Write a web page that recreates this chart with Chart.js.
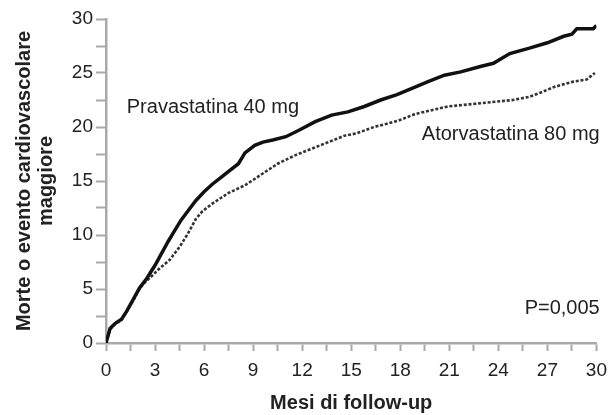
<!DOCTYPE html>
<html>
<head>
<meta charset="utf-8">
<script src="https://cdn.jsdelivr.net/npm/chart.js@4/dist/chart.umd.min.js"></script>
<style>
  html, body { margin: 0; padding: 0; background: #ffffff; }
  #c { display: block; }
</style>
</head>
<body>
<canvas id="c" width="615" height="415"></canvas>
<script>
// ---- data (months, % events) ----
const pravaMonths = [0, 0.25, 0.55, 0.95, 1.25, 1.65, 2.05, 2.5, 3.0, 3.4, 3.8, 4.2, 4.6, 5.0, 5.5, 6.0, 6.5, 7.0, 7.5, 8.1, 8.5, 9.1, 9.6, 10.2, 11.0, 11.8, 12.8, 13.8, 14.8, 15.8, 16.8, 17.8, 18.9, 19.7, 20.7, 21.7, 22.9, 23.7, 24.7, 25.9, 27.0, 28.0, 28.5, 28.8, 29.8, 30];
const pravaEvents = [0, 1.35, 1.8, 2.2, 2.9, 4.0, 5.1, 6.0, 7.2, 8.3, 9.4, 10.4, 11.4, 12.2, 13.2, 14.0, 14.7, 15.3, 15.9, 16.6, 17.6, 18.3, 18.6, 18.8, 19.1, 19.7, 20.5, 21.1, 21.4, 21.9, 22.5, 23.0, 23.7, 24.2, 24.8, 25.1, 25.6, 25.9, 26.8, 27.3, 27.8, 28.4, 28.6, 29.1, 29.1, 29.4];

const atorvaMonths = [0, 0.25, 0.55, 0.95, 1.25, 1.65, 2.05, 2.3, 2.8, 3.2, 3.9, 4.5, 5.0, 5.5, 5.9, 6.5, 7.5, 8.5, 9.5, 10.5, 11.6, 12.6, 13.6, 14.6, 15.3, 16.4, 17.9, 18.9, 20.9, 22.9, 24.9, 25.9, 26.6, 27.4, 28.6, 29.4, 29.9];
const atorvaEvents = [0, 1.3, 1.75, 2.15, 2.85, 3.9, 5.0, 5.5, 6.2, 6.8, 7.7, 8.9, 10.1, 11.5, 12.2, 12.9, 13.9, 14.6, 15.6, 16.6, 17.4, 18.0, 18.6, 19.2, 19.4, 20.0, 20.6, 21.2, 21.9, 22.2, 22.5, 22.8, 23.2, 23.7, 24.2, 24.4, 25.0];

const seriesNames = ['Pravastatina 40 mg', 'Atorvastatina 80 mg'];
const pValueText = 'P=0,005';
const xTitle = 'Mesi di follow-up';
const yTitle = ['Morte o evento cardiovascolare', 'maggiore'];

// label anchor positions in data units
const pravaLabelAt = { x: 1.27, y: 21.8, align: 'left' };
const atorvaLabelAt = { x: 30.2, y: 19.3, align: 'right' };
const pLabelAt = { x: 30.2, y: 3.2, align: 'right' };

const toPoints = (xs, ys) => xs.map((x, i) => ({ x: x, y: ys[i] }));

const FONT = 'Liberation Sans, Arial, Helvetica, sans-serif';
const TXT = '#222222';
const AXIS = '#a9a9a9';

const textLabels = {
  id: 'textLabels',
  afterDatasetsDraw(chart) {
    const { ctx, scales: { x, y } } = chart;
    const items = [
      [seriesNames[0], pravaLabelAt],
      [seriesNames[1], atorvaLabelAt],
      [pValueText, pLabelAt]
    ];
    ctx.save();
    ctx.font = '20px ' + FONT;
    ctx.fillStyle = TXT;
    ctx.textBaseline = 'middle';
    items.forEach(([t, p]) => {
      ctx.textAlign = p.align;
      ctx.fillText(t, x.getPixelForValue(p.x), y.getPixelForValue(p.y));
    });
    ctx.restore();
  }
};

new Chart(document.getElementById('c'), {
  type: 'scatter',
  data: {
    datasets: [
      {
        label: seriesNames[0],
        data: toPoints(pravaMonths, pravaEvents),
        showLine: true,
        borderColor: '#111111',
        borderWidth: 3.5,
        pointRadius: 0,
        tension: 0,
        fill: false
      },
      {
        label: seriesNames[1],
        data: toPoints(atorvaMonths, atorvaEvents),
        showLine: true,
        borderColor: '#333333',
        borderWidth: 2.6,
        borderDash: [3, 1.8],
        pointRadius: 0,
        tension: 0,
        fill: false
      }
    ]
  },
  options: {
    responsive: false,
    animation: false,
    devicePixelRatio: 1,
    layout: { padding: { top: 19, right: 15, bottom: 0, left: 0 } },
    plugins: {
      legend: { display: false },
      tooltip: { enabled: false },
      title: { display: false }
    },
    scales: {
      x: {
        type: 'linear',
        min: 0, max: 30,
        afterFit(s) { s.height = 72; },
        ticks: {
          stepSize: 1.5,
          autoSkip: false,
          maxRotation: 0,
          padding: 8,
          color: TXT,
          font: { family: FONT, size: 19 },
          callback: (v) => (Math.abs(v % 3) < 1e-6 ? String(Math.round(v)) : '')
        },
        grid: { drawOnChartArea: false, drawTicks: true, tickLength: 8, tickColor: AXIS, tickWidth: 2 },
        border: { display: true, color: AXIS, width: 2.5 },
        title: {
          display: true,
          text: xTitle,
          color: TXT,
          font: { family: FONT, size: 20, weight: 'bold' },
          padding: { top: 0, bottom: 0 }
        }
      },
      y: {
        type: 'linear',
        min: 0, max: 30,
        afterFit(s) { s.width = 106; },
        ticks: {
          stepSize: 2.5,
          autoSkip: false,
          padding: 3,
          color: TXT,
          font: { family: FONT, size: 19 },
          callback: (v) => (Math.abs(v % 5) < 1e-6 ? String(Math.round(v)) : '')
        },
        grid: { drawOnChartArea: false, drawTicks: true, tickLength: 10, tickColor: AXIS, tickWidth: 2 },
        border: { display: true, color: AXIS, width: 2.5 },
        title: {
          display: true,
          text: yTitle,
          color: TXT,
          font: { family: FONT, size: 20, weight: 'bold', lineHeight: 1.1 },
          padding: { top: 13, bottom: 0 }
        }
      }
    }
  },
  plugins: [textLabels]
});
</script>
</body>
</html>
